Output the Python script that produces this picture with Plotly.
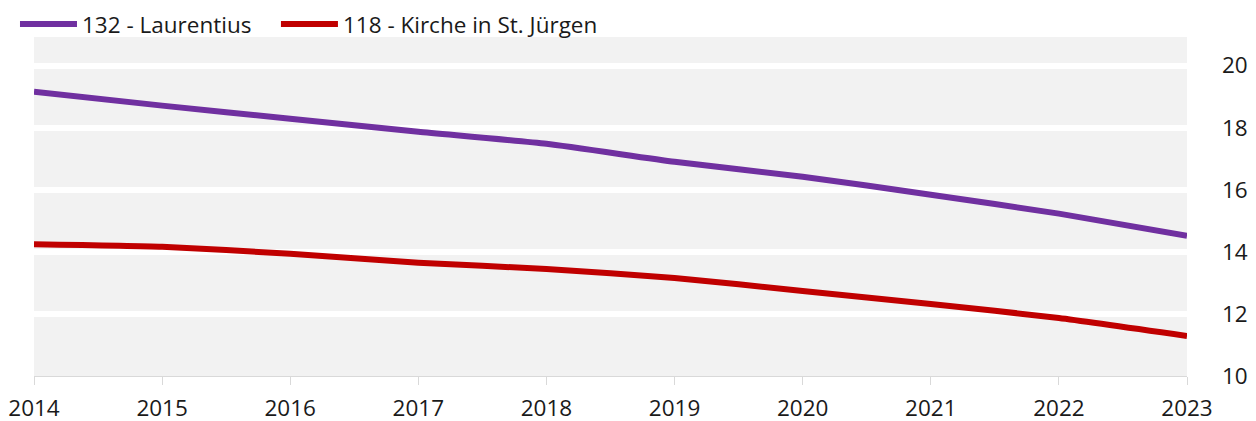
import plotly.graph_objects as go

years = [2014, 2015, 2016, 2017, 2018, 2019, 2020, 2021, 2022, 2023]
laurentius = [19.16, 18.71, 18.29, 17.87, 17.48, 16.90, 16.42, 15.84, 15.23, 14.52]
juergen = [14.24, 14.16, 13.94, 13.65, 13.45, 13.16, 12.74, 12.32, 11.87, 11.29]
names = ["132 - Laurentius", "118 - Kirche in St. Jürgen"]
colors = ["#7030A0", "#C00000"]
legends = ["legend", "legend2"]

fig = go.Figure()
for name, vals, c, lg in zip(names, [laurentius, juergen], colors, legends):
    fig.add_trace(go.Scatter(x=years, y=vals, name=name, mode="lines", legend=lg,
                             line=dict(color=c, width=6, shape="spline", smoothing=0.5)))

leg_common = dict(orientation="h", xanchor="left", y=1.1003, yanchor="top",
                  xref="container", yref="paper", font=dict(size=22.5),
                  itemwidth=57, bgcolor="rgba(0,0,0,0)")

fig.update_layout(
    width=1248, height=421,
    margin=dict(l=26, r=69, t=29, b=53, autoexpand=False),
    paper_bgcolor="white", plot_bgcolor="#F2F2F2",
    font=dict(family="Open Sans", size=22.5, color="#1a1a1a"),
    showlegend=True,
    legend=dict(x=0.0056, **leg_common),
    legend2=dict(x=0.2147, **leg_common),
    xaxis=dict(range=[2014, 2023], tickvals=years, ticktext=[str(y) for y in years],
               showgrid=False, zeroline=False, showline=True, linecolor="#D9D9D9", linewidth=1,
               ticks="outside", ticklen=8, tickcolor="#D9D9D9", tickwidth=1,
               ticklabelstandoff=4, automargin=False),
    yaxis=dict(range=[10, 20.92], side="right", tickvals=[10, 12, 14, 16, 18, 20],
               showgrid=True, gridcolor="white", gridwidth=6, zeroline=False,
               showline=False, ticks="", ticklabelstandoff=34, automargin=False),
)
fig.write_html("out.html")
